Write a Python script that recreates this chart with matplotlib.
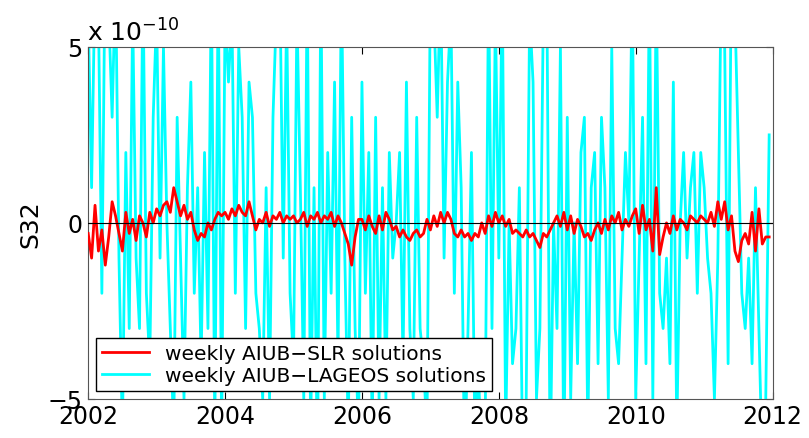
import numpy as np
import matplotlib
matplotlib.use("Agg")
import matplotlib.pyplot as plt

# units of 1e-10, sampled every 0.05 yr starting 2002.0
lageos = [6,1,7,6,-2,8,6,3,7,-1,
          -6,2,-3,6,-1,-3,7,-2,-4,3,
          6,-1,5,0,-3,-6,3,-1,-5,1,
          4,-2,1,-4,2,-3,7,-6,7,-6,
          6,4,6,-2,5,3,-3,4,3,-2,
          -3,-5,1,-5,3,6,7,-1,6,-2,
          -4,6,1,-5,7,-6,1,-7,7,-5,
          2,-2,4,-4,7,-1,-6,3,-3,-6,
          4,-2,2,-6,3,-5,1,-5,2,-1,
          0,2,-4,4,-3,-5,3,-3,-4,-6,
          7,6,3,7,-1,4,6,-2,4,1,
          -7,-3,2,-6,-4,-7,-6,7,-3,6,
          -1,7,-6,0,-4,-3,1,-7,-5,6,
          4,-5,-3,6,7,-7,0,-3,5,-7,
          3,-5,0,-4,2,3,-6,1,2,-4,
          3,1,-5,5,-3,-4,-1,2,0,7,
          -5,-1,3,-4,7,-5,7,-2,-3,-1,
          -4,4,-6,0,2,-1,1,2,-2,2,
          1,-1,-2,-5,-1,7,5,-4,8,6,
          2,-2,-3,-1,-4,1,-3,-7,-5,2.5]
slr = [-0.3,-1.0,0.5,-0.8,-0.2,-1.2,-0.4,0.6,0.2,-0.3,
       -0.8,0.3,-0.3,0.1,-0.5,0.2,0.0,-0.4,0.3,0.0,
       0.4,0.2,0.5,0.6,0.3,1.0,0.6,0.2,0.5,0.1,
       0.3,-0.2,-0.5,-0.3,-0.4,0.0,-0.2,0.1,0.3,0.2,
       0.3,0.1,0.4,0.2,0.5,0.3,0.2,0.6,0.2,-0.2,
       0.1,0.0,0.3,-0.1,0.2,0.1,0.3,0.0,0.2,0.1,
       0.2,0.0,0.1,0.3,-0.1,0.2,0.1,0.3,0.0,0.2,
       0.1,0.3,-0.1,0.2,0.0,-0.3,-0.6,-1.2,-0.4,0.1,
       0.1,-0.2,0.2,-0.1,-0.3,0.2,-0.2,0.3,0.1,-0.2,
       -0.1,-0.4,-0.2,-0.4,-0.5,-0.3,-0.2,-0.4,-0.3,0.1,
       -0.2,0.2,-0.1,0.3,0.0,0.3,0.1,-0.3,-0.4,-0.2,
       -0.4,-0.3,-0.5,-0.3,-0.4,0.0,-0.3,0.2,-0.1,0.3,
       0.0,0.2,-0.1,0.1,-0.3,-0.2,-0.3,-0.4,-0.2,-0.4,
       -0.3,-0.5,-0.7,-0.3,-0.4,-0.2,0.0,0.2,-0.1,0.3,
       -0.2,0.2,-0.3,0.1,-0.1,-0.4,-0.3,-0.5,-0.2,0.0,
       -0.3,0.1,-0.2,0.2,0.0,0.3,-0.2,0.1,-0.1,0.2,
       0.4,-0.3,0.5,-0.2,0.1,-0.8,1.0,-0.9,-0.4,0.0,
       -0.3,0.2,-0.2,0.1,0.0,-0.2,0.2,0.1,0.0,0.2,
       0.1,0.0,0.3,-0.1,0.6,0.1,0.6,-0.2,0.2,-0.8,
       -1.1,-0.5,-0.3,-0.6,0.3,-0.8,0.4,-0.6,-0.4,-0.4]
start_year = 2002.0
step = 0.05
xticks = [2002, 2004, 2006, 2008, 2010, 2012]
yticks = [-5, 0, 5]

t_l = start_year + step*np.arange(len(lageos))
t_s = start_year + step*np.arange(len(slr))

fig = plt.figure(figsize=(8.09, 4.39), dpi=100)
ax = fig.add_axes([0.109, 0.089, 0.846, 0.802])
ax.plot(t_l, lageos, color='#00ffff', lw=2, label='weekly AIUB\u2212LAGEOS solutions', zorder=2)
ax.plot(t_s, slr, color='red', lw=2, label='weekly AIUB\u2212SLR solutions', zorder=3)
ax.axhline(0, color='black', lw=0.8, zorder=4)
ax.set_xlim(2002, 2012)
ax.set_ylim(-5, 5)
ax.set_xticks(xticks)
ax.set_yticks(yticks)
ax.set_yticklabels(['\u22125', '0', '5'])
ax.tick_params(direction='in', labelsize=17, length=5, top=True, right=True, pad=4)
ax.set_ylabel('S32', fontsize=18)
fig.text(0.108, 0.905, r'x $10^{-10}$', fontsize=18)
h, l = ax.get_legend_handles_labels()
ax.legend(h[::-1], l[::-1], loc='lower left', fontsize=14.5, fancybox=False,
          edgecolor='black', framealpha=1, borderaxespad=0.4, handlelength=2.3,
          labelspacing=0.15, borderpad=0.3)
for s in ax.spines.values():
    s.set_color('#555555')
fig.savefig('out.png')
